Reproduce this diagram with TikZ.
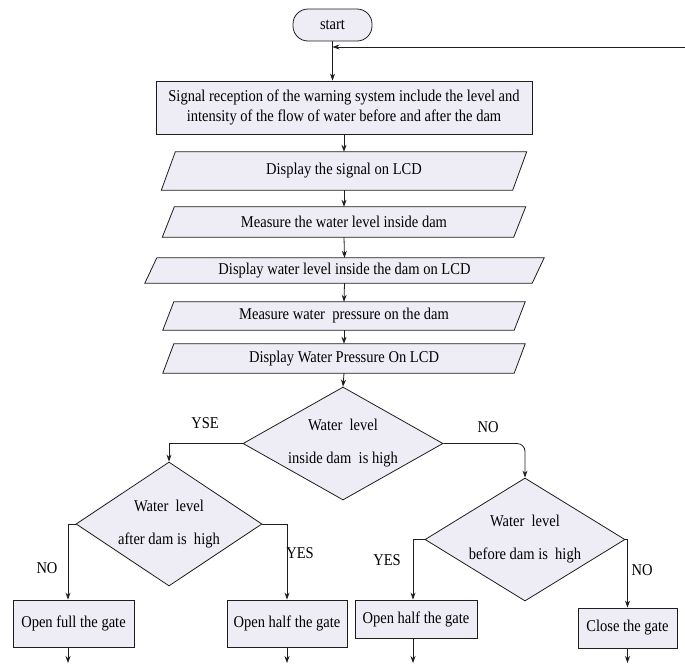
\documentclass[tikz,border=0pt]{standalone}
\usepackage{fontspec}
\setmainfont{Liberation Serif}[FakeStretch=0.88]
\usetikzlibrary{shapes.geometric,arrows.meta,calc,backgrounds}
\definecolor{boxfill}{RGB}{238,237,245}
\definecolor{lin}{RGB}{30,30,30}
\newcommand\drawslant[2]{%
  \begin{scope}[on background layer]
  \draw[shp] ([xshift=-#2]#1.south west) -- ([xshift=-#2]#1.south east) -- ([xshift=#2]#1.north east) -- ([xshift=#2]#1.north west) -- cycle;
  \end{scope}}
\begin{document}
\begin{tikzpicture}[x=1pt,y=-1pt,
  every node/.style={font=\fontsize{16.5}{20}\selectfont, text=black},
  shp/.style={draw=lin, fill=boxfill, line width=0.8pt},
  procbox/.style={shp, rectangle, inner sep=0pt},
  ptxt/.style={rectangle, inner sep=0pt},
  dia/.style={shp, diamond, inner sep=0pt},
  dtext/.style={align=center, inner sep=0pt, font=\fontsize{16.5}{33}\selectfont},
  arr/.style={draw=lin, line width=0.8pt, -{Stealth[length=7pt,width=5pt]}},
  lab/.style={inner sep=0pt}]
\useasboundingbox (0,0) rectangle (685,664);

% start and first box
\node[procbox, rounded corners=15pt, minimum width=79pt, minimum height=32pt] (start) at (332.5,25) {start};
\node[procbox, minimum width=376pt, minimum height=53pt, align=center] (sig) at (344,107.5)
  {Signal reception of the warning system include the level and\\intensity of the flow of water before and after the dam};

% parallelograms
\node[ptxt, minimum width=351pt, minimum height=38pt] (p1) at (344,171) {Display the signal on LCD};
\node[ptxt, minimum width=351pt, minimum height=30pt] (p2) at (344,222) {Measure the water level inside dam};
\node[ptxt, minimum width=387pt, minimum height=25pt] (p3) at (344.5,270.5) {Display water level inside the dam on LCD};
\node[ptxt, minimum width=351pt, minimum height=28pt] (p4) at (344,316) {Measure water~~pressure on the dam};
\node[ptxt, minimum width=351pt, minimum height=29pt] (p5) at (344,358.5) {Display Water Pressure On LCD};
\drawslant{p1}{7pt}
\drawslant{p2}{6pt}
\drawslant{p3}{6pt}
\drawslant{p4}{5.5pt}
\drawslant{p5}{5.5pt}

% decisions
\node[dia, minimum width=200pt, minimum height=113pt,
  label={[dtext]center:{Water~~level\\inside dam~~is high}}] (d1) at (343,443.5) {};
\node[dia, minimum width=186pt, minimum height=124pt,
  label={[dtext]center:{Water~~level\\after dam is~~high}}] (d2) at (169,524) {};
\node[dia, minimum width=200pt, minimum height=123pt,
  label={[dtext]center:{Water~~level\\before dam is~~high}}] (d3) at (525,539.5) {};

% actions
\node[procbox, minimum width=121pt, minimum height=47pt] (b1) at (73.5,623.5) {Open full the gate};
\node[procbox, minimum width=120pt, minimum height=47pt] (b2) at (287,623.5) {Open half the gate};
\node[procbox, minimum width=122pt, minimum height=38pt] (b3) at (416,619) {Open half the gate};
\node[procbox, minimum width=99pt, minimum height=40pt] (b4) at (627.5,628) {Close the gate};

% branch labels
\node[lab] (lyse) at (205,423) {YSE};
\node[lab] (lno1) at (488,427) {NO};
\node[lab] (lno2) at (47,568) {NO};
\node[lab] (lyes1) at (300,553) {YES};
\node[lab] (lyes2) at (387,560) {YES};
\node[lab] (lno3) at (642,570) {NO};

% connectors
\coordinate (fb) at (685,47);
\coordinate (bot) at (0,663);
\draw[arr] (start.south) -- (start.south |- sig.north);
\draw[arr] (fb) -- (fb -| start.south);
\draw[arr] (sig.south) -- (p1.north);
\draw[arr] (p1.south) -- (p2.north);
\draw[arr] (p2.south) -- (p3.north);
\draw[arr] (p3.south) -- (p4.north);
\draw[arr] (p4.south) -- (p5.north);
\draw[arr] (p5.south) -- (d1.north);
\draw[arr] (d1.west) -| (d2.north);
\draw[arr, rounded corners=8pt] (d1.east) -| (d3.north);
\draw[arr] (d2.west) -| ([xshift=-5.5pt]b1.north);
\draw[arr] (d2.east) -| (b2.north);
\draw[arr] (d3.west) -| ([xshift=-3pt]b3.north);
\draw[arr] (d3.east) -| (b4.north);
\draw[arr] ([xshift=-5.5pt]b1.south) -- ([xshift=-5.5pt]b1.south |- bot);
\draw[arr] (b2.south) -- (b2.south |- bot);
\draw[arr] ([xshift=-3pt]b3.south) -- ([xshift=-3pt]b3.south |- bot);
\draw[arr] (b4.south) -- (b4.south |- bot);
\end{tikzpicture}
\end{document}
